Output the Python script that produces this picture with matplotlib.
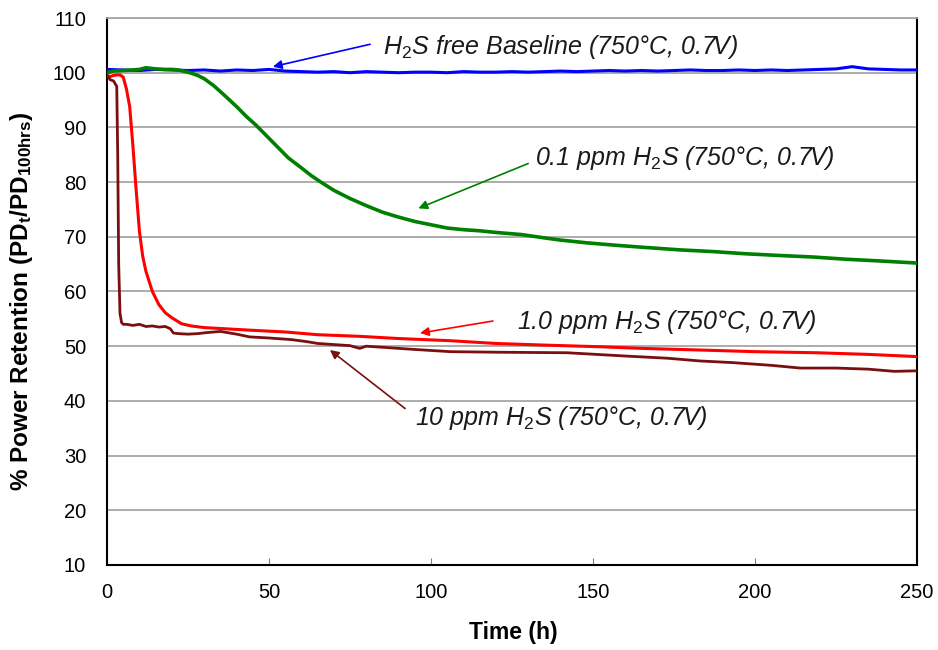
import matplotlib
matplotlib.use("Agg")
import matplotlib.pyplot as plt
from matplotlib import font_manager

# ---- data -------------------------------------------------------------
baseline_t = [0, 5, 10, 15, 20, 25, 30, 35, 40, 45, 50, 55, 60, 65, 70, 75, 80, 85,
              90, 95, 100, 105, 110, 115, 120, 125, 130, 135, 140, 145, 150, 155,
              160, 165, 170, 175, 180, 185, 190, 195, 200, 205, 210, 215, 220, 225,
              230, 235, 240, 245, 250]
baseline_v = [100.6, 100.5, 100.4, 100.6, 100.5, 100.4, 100.5, 100.3, 100.5, 100.4,
              100.6, 100.3, 100.2, 100.1, 100.2, 100.0, 100.2, 100.1, 100.0, 100.1,
              100.1, 100.0, 100.2, 100.1, 100.1, 100.2, 100.1, 100.2, 100.3, 100.2,
              100.3, 100.4, 100.3, 100.4, 100.3, 100.4, 100.5, 100.4, 100.4, 100.5,
              100.4, 100.5, 100.4, 100.5, 100.6, 100.7, 101.1, 100.7, 100.6, 100.5,
              100.5]

ppm01_t = [0, 2, 5, 8, 10, 12, 15, 18, 20, 22, 25, 28, 30, 33, 36, 40, 43, 46, 50,
           53, 56, 60, 63, 66, 70, 75, 80, 85, 90, 95, 100, 105, 110, 115, 120, 128,
           135, 140, 148, 156, 165, 177, 187, 197, 207, 218, 228, 238, 244, 250]
ppm01_v = [100.0, 100.3, 100.4, 100.5, 100.6, 100.9, 100.7, 100.6, 100.6, 100.5,
           100.1, 99.5, 98.9, 97.6, 96.0, 93.8, 92.0, 90.4, 88.0, 86.2, 84.4, 82.6,
           81.2, 80.0, 78.5, 77.0, 75.7, 74.5, 73.6, 72.8, 72.2, 71.6, 71.3, 71.1,
           70.8, 70.4, 69.8, 69.4, 68.9, 68.5, 68.1, 67.6, 67.3, 66.9, 66.6, 66.3,
           65.9, 65.6, 65.4, 65.2]

ppm1_t = [0, 1, 2, 3, 4, 5, 6, 7, 8, 9, 10, 11, 12, 14, 16, 18, 20, 23, 26, 30, 36,
          45, 55, 65, 78, 90, 106, 120, 135, 152, 165, 183, 200, 219, 235, 250]
ppm1_v = [99.5, 99.3, 99.5, 99.6, 99.6, 99.2, 97.0, 93.8, 86.5, 78.5, 71.0, 66.5,
          63.7, 60.0, 57.6, 56.1, 55.2, 54.1, 53.7, 53.4, 53.2, 52.9, 52.6, 52.1,
          51.8, 51.4, 51.0, 50.5, 50.2, 49.9, 49.6, 49.3, 49.0, 48.8, 48.5, 48.1]

ppm10_t = [0, 1, 2, 2.5, 3, 3.3, 3.6, 4, 4.5, 5, 6, 8, 10, 12, 14, 16, 18, 19.5,
           20.5, 22, 25, 28, 31, 35, 40, 44, 50, 57, 62, 65, 70, 75, 78, 80, 85, 95,
           106, 120, 142, 160, 173, 183, 193, 205, 214, 225, 235, 243, 250]
ppm10_v = [99.5, 98.7, 98.5, 98.0, 97.5, 85.0, 65.0, 56.0, 54.3, 54.0, 54.0, 53.8,
           54.0, 53.6, 53.7, 53.5, 53.6, 53.2, 52.4, 52.3, 52.2, 52.3, 52.5, 52.7,
           52.2, 51.7, 51.5, 51.2, 50.8, 50.5, 50.3, 50.1, 49.6, 50.0, 49.8, 49.4,
           49.0, 48.9, 48.8, 48.2, 47.8, 47.3, 47.0, 46.5, 46.0, 46.0, 45.8, 45.4,
           45.5]

x_ticks = [0, 50, 100, 150, 200, 250]
y_ticks = [10, 20, 30, 40, 50, 60, 70, 80, 90, 100, 110]

# ---- fonts ------------------------------------------------------------
available = {f.name for f in font_manager.fontManager.ttflist}
base_font = "Liberation Sans" if "Liberation Sans" in available else "DejaVu Sans"

plt.rcParams["font.family"] = [base_font, "DejaVu Sans"]
plt.rcParams["mathtext.fontset"] = "custom"
plt.rcParams["mathtext.rm"] = base_font
plt.rcParams["mathtext.it"] = base_font + ":italic"
plt.rcParams["mathtext.bf"] = base_font + ":bold"

# ---- figure -----------------------------------------------------------
fig = plt.figure(figsize=(9.38, 6.5), dpi=100)
ax = fig.add_axes([0.1141, 0.1308, 0.8635, 0.8415])

ax.plot(baseline_t, baseline_v, color="#0000ff", lw=2.2, zorder=3)
ax.plot(ppm01_t, ppm01_v, color="#008000", lw=2.6, zorder=3)
ax.plot(ppm1_t, ppm1_v, color="#ff0000", lw=2.2, zorder=4)
ax.plot(ppm10_t, ppm10_v, color="#7a0f0f", lw=2.0, zorder=5)

ax.set_xlim(0, 250)
ax.set_ylim(10, 110)
ax.set_xticks(x_ticks)
ax.set_yticks(y_ticks)
ax.grid(axis="y", color="#a6a6a6", lw=1.3, zorder=1)
ax.set_axisbelow(True)

for side in ("left", "bottom", "right"):
    ax.spines[side].set_color("black")
    ax.spines[side].set_linewidth(1.5)
ax.spines["top"].set_color("#a6a6a6")
ax.spines["top"].set_linewidth(1.3)

ax.tick_params(axis="x", direction="in", length=5, width=0.8, color="#808080",
               pad=13, labelsize=14.5)
ax.tick_params(axis="y", length=0, pad=15, labelsize=14.5)

ax.set_xlabel("Time (h)", fontsize=16.5, fontweight="bold")
ax.xaxis.set_label_coords(0.501, -0.124)
ax.set_ylabel(r"% Power Retention (PD$\mathbf{_t}$/PD$\mathbf{_{100hrs}}$)",
              fontsize=17.5, fontweight="bold")
ax.yaxis.set_label_coords(-0.105, 0.483)
ax.xaxis.label.set_va("center")
ax.yaxis.label.set_va("center")

# ---- annotations --------------------------------------------------------
notes = [
    (r"H$_\mathit{2}$S free Baseline (750°C, 0.7V)", (85.2, 104.7), (81.2, 105.2), (51.2, 101.1), "#0000ff"),
    (r"0.1 ppm H$_\mathit{2}$S (750°C, 0.7V)", (132.1, 84.4), (130.0, 83.4), (96.1, 75.2), "#008000"),
    (r"1.0 ppm H$_\mathit{2}$S (750°C, 0.7V)", (126.4, 54.5), (119.1, 54.6), (96.6, 52.4), "#ff0000"),
    (r"10 ppm H$_\mathit{2}$S (750°C, 0.7V)", (95.1, 36.8), (92.0, 38.6), (68.8, 49.3), "#7a0f0f"),
]
for text, pos, start, tip, col in notes:
    ax.text(pos[0], pos[1], text, fontsize=18, style="italic", color="#1a1a1a",
            ha="left", va="center", zorder=6)
    ax.annotate("", xy=tip, xytext=start,
                arrowprops=dict(arrowstyle="-|>", color=col, lw=1.2,
                                mutation_scale=13, shrinkA=0, shrinkB=0),
                zorder=6)

fig.savefig("out.png", dpi=100)
